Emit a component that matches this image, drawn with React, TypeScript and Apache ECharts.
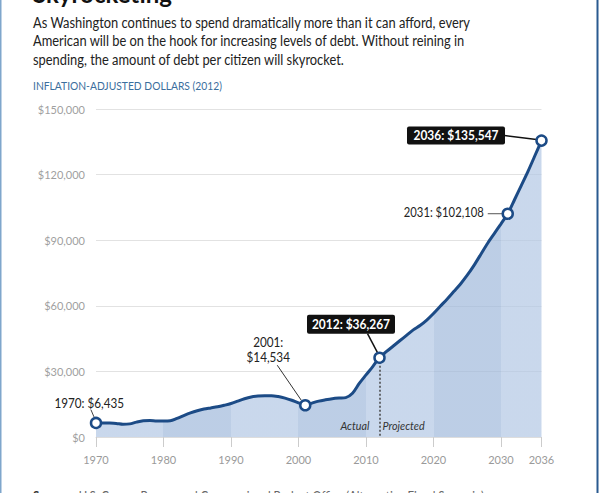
import React, { useEffect, useRef } from "react";
import * as echarts from "echarts";

// ---------- data ----------
const years: number[] = [];
for (let y = 1970; y <= 2036; y++) years.push(y);

const debtPerCitizen: number[] = [
  6435, 6400, 6350, 6200, 5800, 6000, 6800, 7400, 7500, 7300, // 1970-1979
  7300, 7400, 8500, 9800, 11000, 12000, 12800, 13300, 13800, 14500, // 1980-1989
  15300, 16400, 17500, 18300, 18700, 18900, 18900, 18500, 17800, 16800, // 1990-1999
  15600, 14534, 15500, 16400, 17000, 17500, 17800, 18000, 20000, 24500, // 2000-2009
  28400, 32200, 36267, 39000, 41500, 44000, 46500, 49000, 51000, 53500, // 2010-2019
  56500, 59800, 63000, 66500, 70000, 74000, 78500, 83500, 88500, 93000, // 2020-2029
  97500, 102108, 108500, 115000, 121500, 128500, 135547, // 2030-2036
];

const xTickYears = [1970, 1980, 1990, 2000, 2010, 2020, 2030, 2036];
const yTickValues = [0, 30000, 60000, 90000, 120000, 150000];

const highlightYears = [1970, 2001, 2012, 2031, 2036];
const highlightLabels = [
  "1970: $6,435",
  "2001:\n$14,534",
  "2012: $36,267",
  "2031: $102,108",
  "2036: $135,547",
];

const titleText = "Skyrocketing";
const introLines = [
  "As Washington continues to spend dramatically more than it can afford, every",
  "American will be on the hook for increasing levels of debt. Without reining in",
  "spending, the amount of debt per citizen will skyrocket.",
];
const unitText = "INFLATION-ADJUSTED DOLLARS (2012)";
const sourceLabel = "Sources:";
const sourceText = "U.S. Census Bureau and Congressional Budget Office (Alternative Fiscal Scenario)";

// ---------- helpers ----------
const FONT = "Lato, 'Open Sans', sans-serif";
const NAVY = "#1c4b86";

function measure(text: string, font: string): number {
  const c = document.createElement("canvas").getContext("2d");
  if (!c) return text.length * 7;
  c.font = font;
  return c.measureText(text).width;
}

function fitScale(text: string, font: string, target: number): number {
  const w = measure(text, font);
  return w > 0 ? target / w : 1;
}

function fmtDollar(v: number): string {
  return "$" + v.toLocaleString("en-US");
}

export default function App() {
  const ref = useRef<HTMLDivElement>(null);

  useEffect(() => {
    if (!ref.current) return;
    const chart = echarts.init(ref.current, undefined, { renderer: "svg" });

    const seriesData = years.map((y, i) => [y, debtPerCitizen[i]]);
    const valueOf = (yr: number) => debtPerCitizen[years.indexOf(yr)];

    // alternating decade bands inside the area
    const span = years[years.length - 1] - years[0];
    const light = "rgba(178,199,228,0.7)";
    const dark = "rgba(160,185,219,0.7)";
    const stops: { offset: number; color: string }[] = [];
    for (let i = 0; i < xTickYears.length - 1; i++) {
      const c = i % 2 === 0 ? light : dark;
      stops.push({ offset: (xTickYears[i] - years[0]) / span, color: c });
      stops.push({ offset: (xTickYears[i + 1] - years[0]) / span, color: c });
    }

    chart.setOption({
      animation: false,
      grid: { left: 96, right: 58.5, top: 109, bottom: 56, containLabel: false },
      xAxis: {
        type: "value",
        min: 1970,
        max: 2036,
        interval: 10,
        axisLine: { show: true, lineStyle: { color: "#dddddd", width: 1 } },
        axisTick: {
          show: true,
          length: 10,
          customValues: xTickYears,
          lineStyle: { color: "#cccccc" },
        },
        axisLabel: {
          customValues: xTickYears,
          color: "#9a9a9a",
          fontFamily: FONT,
          fontSize: 11,
          margin: 17,
          formatter: (v: number) => String(v),
        },
        splitLine: { show: false },
      },
      yAxis: {
        type: "value",
        min: 0,
        max: 150000,
        interval: 30000,
        axisLine: { show: false },
        axisTick: { show: false },
        axisLabel: {
          customValues: yTickValues,
          color: "#9f9f9f",
          fontFamily: FONT,
          fontSize: 11,
          margin: 11,
          formatter: (v: number) => fmtDollar(v),
        },
        splitLine: { show: true, lineStyle: { color: "#e2e2e2", width: 1 } },
      },
      series: [
        {
          type: "line",
          data: seriesData,
          smooth: 0.3,
          symbol: "none",
          lineStyle: { color: NAVY, width: 3 },
          areaStyle: {
            opacity: 1,
            color: new echarts.graphic.LinearGradient(0, 0, 1, 0, stops),
          },
          z: 3,
          markLine: {
            silent: true,
            symbol: "none",
            label: { show: false },
            lineStyle: { type: [2, 2], color: "#444", width: 1.5 },
            data: [[{ coord: [2012, valueOf(2012)] }, { coord: [2012, 0] }]],
          },
        },
        {
          type: "scatter",
          data: highlightYears.map((y) => [y, valueOf(y)]),
          symbol: "circle",
          symbolSize: 10,
          itemStyle: { color: "#ffffff", borderColor: NAVY, borderWidth: 2.5, opacity: 1 },
          z: 10,
        },
      ],
    });

    const px = (yr: number) =>
      chart.convertToPixel({ gridIndex: 0 }, [yr, valueOf(yr)]) as number[];

    const g: any[] = [];
    const left = 33;

    // header
    g.push({
      type: "text",
      x: left,
      y: 5,
      style: {
        text: titleText,
        fontFamily: FONT,
        fontWeight: "bold",
        fontSize: 24,
        fill: "#111",
        verticalAlign: "bottom",
      },
    });
    const introFont = `15px ${FONT}`;
    const introScale = fitScale(introLines[0], introFont, 438);
    const introY = [22, 40.5, 59];
    introLines.forEach((t, i) => {
      g.push({
        type: "text",
        x: left,
        y: introY[i],
        scaleX: introScale,
        style: {
          text: t,
          fontFamily: FONT,
          fontSize: 15,
          fill: "#222",
          verticalAlign: "middle",
        },
      });
    });
    const unitFont = `12px ${FONT}`;
    g.push({
      type: "text",
      x: left,
      y: 85,
      scaleX: fitScale(unitText, unitFont, 189),
      style: {
        text: unitText,
        fontFamily: FONT,
        fontSize: 12,
        fill: "#3b6e9d",
        verticalAlign: "middle",
      },
    });
    // sources
    const srcFontB = `bold 13px ${FONT}`;
    const srcScale = 0.88;
    const wB = measure(sourceLabel + " ", srcFontB) * srcScale;
    g.push({
      type: "text",
      x: left,
      y: 496,
      scaleX: srcScale,
      style: { text: sourceLabel, fontFamily: FONT, fontWeight: "bold", fontSize: 13, fill: "#333", verticalAlign: "middle" },
    });
    g.push({
      type: "text",
      x: left + wB,
      y: 496,
      scaleX: srcScale,
      style: { text: sourceText, fontFamily: FONT, fontSize: 13, fill: "#666", verticalAlign: "middle" },
    });

    const lineEl = (x1: number, y1: number, x2: number, y2: number, color = "#333", w = 1) => ({
      type: "line",
      shape: { x1, y1, x2, y2 },
      style: { stroke: color, lineWidth: w },
      z: 5,
    });
    const plainText = (text: string, x: number, y: number, align: string, size = 13, extra: any = {}) => ({
      type: "text",
      x,
      y,
      scaleX: 0.9,
      style: {
        text,
        fontFamily: FONT,
        fontSize: size,
        fill: "#222",
        align,
        verticalAlign: "middle",
        ...extra,
      },
      z: 6,
    });
    const boxLabel = (text: string, bx: number, by: number, bw: number, bh: number) => [
      { type: "rect", shape: { x: bx, y: by, width: bw, height: bh, r: 2 }, style: { fill: "#111" }, z: 6 },
      {
        type: "text",
        x: bx + bw / 2,
        y: by + bh / 2,
        scaleX: 0.92,
        style: {
          text,
          fontFamily: FONT,
          fontWeight: "bold",
          fontSize: 13,
          fill: "#fff",
          align: "center",
          verticalAlign: "middle",
        },
        z: 7,
      },
    ];

    // 1970
    {
      const [x, y] = px(highlightYears[0]);
      g.push(lineEl(x - 5, y - 13, x - 2, y - 6, "#444", 1));
      g.push(plainText(highlightLabels[0], x + 28, y - 20, "right", 13));
    }
    // 2001
    {
      const [x, y] = px(highlightYears[1]);
      g.push(lineEl(x - 28, y - 40, x - 4, y - 5, "#333", 1));
      g.push(
        plainText(highlightLabels[1], x - 37, y - 55, "center", 13, { lineHeight: 15 })
      );
    }
    // 2012
    {
      const [x, y] = px(highlightYears[2]);
      g.push(lineEl(x - 12, y - 24, x - 2, y - 5, "#111", 1.5));
      g.push(...boxLabel(highlightLabels[2], x - 72.5, y - 43, 88, 19));
      g.push(plainText("Actual", x - 10, y + 68, "right", 12, { fontStyle: "italic", fill: "#333" }));
      g.push(plainText("Projected", x + 3, y + 68, "left", 12, { fontStyle: "italic", fill: "#333" }));
    }
    // 2031
    {
      const [x, y] = px(highlightYears[3]);
      g.push(lineEl(x - 20, y, x - 5, y, "#555", 1));
      g.push(plainText(highlightLabels[3], x - 24, y - 1, "right", 12.5));
    }
    // 2036
    {
      const [x, y] = px(highlightYears[4]);
      g.push(lineEl(x - 37, y - 5, x - 5, y - 1, "#111", 1.5));
      g.push(...boxLabel(highlightLabels[4], x - 134.5, y - 14, 98, 18));
    }

    // frame borders
    g.push({ type: "rect", shape: { x: 0, y: 0, width: 1.5, height: 493 }, style: { fill: "#7fa6cc" }, z: 20 });
    g.push({ type: "rect", shape: { x: 596.5, y: 0, width: 2, height: 493 }, style: { fill: "#2a5a90" }, z: 20 });

    chart.setOption({ graphic: g });

    return () => chart.dispose();
  }, []);

  return (
    <div
      ref={ref}
      style={{ position: "fixed", left: 0, top: 0, width: 600, height: 493, background: "#fff" }}
    />
  );
}
